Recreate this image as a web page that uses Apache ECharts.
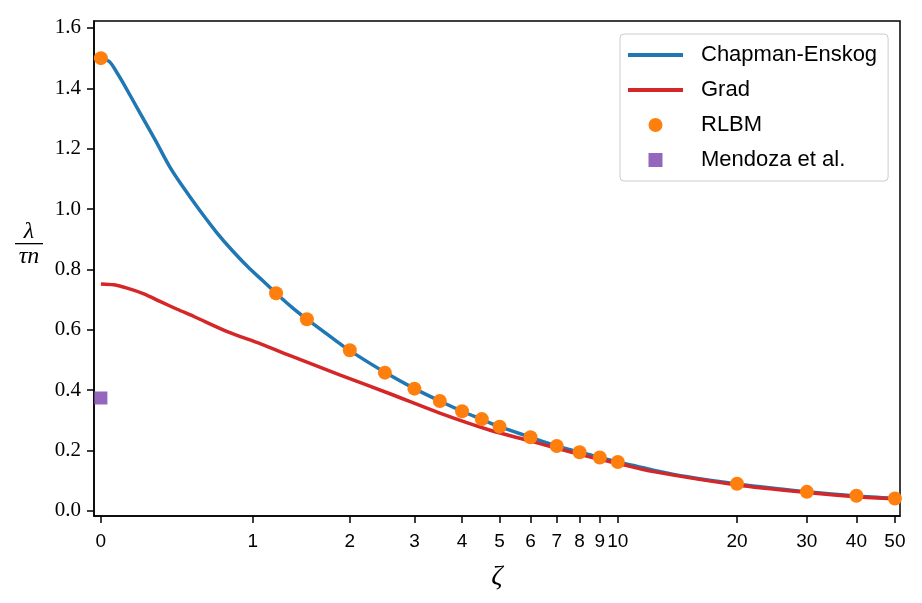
<!DOCTYPE html>
<html>
<head>
<meta charset="utf-8">
<script src="https://cdn.jsdelivr.net/npm/echarts@6/dist/echarts.min.js"></script>
<style>
  html, body { margin: 0; padding: 0; background: #fff; }
  #chart { width: 922px; height: 603px; }
</style>
</head>
<body>
<div id="chart"></div>
<script>
// zeta values on an asinh axis
const ceZeta = [0, 0.05, 0.09, 0.13, 0.23, 0.32, 0.41, 0.495, 0.606, 0.722, 0.843, 0.975, 1.088, 1.2, 1.364, 1.5, 1.84, 2, 2.5, 3, 3.5, 4, 4.5, 5, 6, 7, 8, 9, 10, 12.3, 15, 20, 25, 30, 40, 50]
const ceVal = [1.5, 1.488, 1.455, 1.417, 1.317, 1.229, 1.140, 1.073, 0.995, 0.923, 0.860, 0.802, 0.761, 0.721, 0.670, 0.635, 0.561, 0.531, 0.459, 0.405, 0.364, 0.330, 0.303, 0.279, 0.244, 0.215, 0.194, 0.177, 0.162, 0.135, 0.113, 0.089, 0.074, 0.063, 0.049, 0.041]

const gradZeta = [0, 0.075, 0.153, 0.252, 0.353, 0.457, 0.566, 0.80, 1.065, 1.37, 1.88, 2.58, 3.5, 4.71, 5.97, 8, 10, 12.3, 20, 30, 40, 50]
const gradVal = [0.752, 0.749, 0.738, 0.719, 0.693, 0.668, 0.644, 0.594, 0.553, 0.509, 0.450, 0.388, 0.324, 0.268, 0.232, 0.187, 0.157, 0.130, 0.086, 0.061, 0.047, 0.040]

const rlbmZeta = [0, 1.2, 1.5, 2, 2.5, 3, 3.5, 4, 4.5, 5, 6, 7, 8, 9, 10, 20, 30, 40, 50]
const rlbmVal = [1.5, 0.721, 0.635, 0.532, 0.458, 0.405, 0.364, 0.330, 0.304, 0.279, 0.244, 0.215, 0.194, 0.177, 0.162, 0.090, 0.063, 0.050, 0.041]

const mendozaZeta = [0]
const mendozaVal = [0.374]

const xTicks = [0, 1, 2, 3, 4, 5, 6, 7, 8, 9, 10, 20, 30, 40, 50]
const yTicks = [0, 0.2, 0.4, 0.6, 0.8, 1.0, 1.2, 1.4, 1.6]

const toPoints = (zs, vs) => zs.map((z, i) => [Math.asinh(z), vs[i]])

const chart = echarts.init(document.getElementById('chart'))

const lineIcon = 'path://M0,0H55V4H0Z'
const squareIcon = 'path://M0,0H10V10H0Z'

const option = {
  animation: false,
  backgroundColor: '#fff',
  grid: {
    left: 94,
    right: 22,
    top: 21,
    bottom: 87,
    show: true,
    borderColor: '#000',
    borderWidth: 1.5,
    backgroundColor: 'transparent'
  },
  legend: {
    orient: 'vertical',
    left: 620,
    top: 34,
    padding: [10, 11, 10, 8],
    itemWidth: 55,
    itemHeight: 14,
    itemGap: 13,
    backgroundColor: 'rgba(255,255,255,0.8)',
    borderColor: '#cccccc',
    borderWidth: 1,
    borderRadius: 4,
    itemStyle: { borderWidth: 0 },
    textStyle: {
      fontFamily: 'Liberation Sans',
      fontSize: 22,
      lineHeight: 22,
      color: '#000',
      padding: [0, 0, 0, 13]
    },
    data: [
      { name: 'Chapman-Enskog', icon: lineIcon },
      { name: 'Grad', icon: lineIcon },
      { name: 'RLBM', icon: 'circle' },
      { name: 'Mendoza et al.', icon: squareIcon }
    ]
  },
  xAxis: {
    type: 'value',
    min: Math.asinh(-0.04),
    max: Math.asinh(51.5),
    name: 'ζ',
    nameLocation: 'middle',
    nameGap: 47,
    nameTextStyle: {
      fontFamily: 'Liberation Serif',
      fontStyle: 'italic',
      fontSize: 28,
      color: '#000'
    },
    splitLine: { show: false },
    axisLine: { show: true, onZero: false, lineStyle: { color: '#000', width: 1.5 } },
    axisTick: {
      show: true,
      length: 7,
      lineStyle: { color: '#000', width: 1.5 },
      customValues: xTicks.map(v => Math.asinh(v))
    },
    axisLabel: {
      show: true,
      margin: 16,
      fontFamily: 'Liberation Sans',
      fontSize: 19,
      color: '#000',
      customValues: xTicks.map(v => Math.asinh(v)),
      formatter: v => String(Math.round(Math.sinh(v)))
    }
  },
  yAxis: {
    type: 'value',
    min: -0.017,
    max: 1.623,
    splitLine: { show: false },
    axisLine: { show: true, onZero: false, lineStyle: { color: '#000', width: 1.5 } },
    axisTick: {
      show: true,
      length: 7,
      lineStyle: { color: '#000', width: 1.5 },
      customValues: yTicks
    },
    axisLabel: {
      show: true,
      margin: 13,
      fontFamily: 'Liberation Serif',
      fontSize: 21,
      color: '#000',
      customValues: yTicks,
      formatter: v => v.toFixed(1)
    }
  },
  graphic: [
    {
      type: 'text',
      x: 29,
      y: 232,
      style: {
        text: 'λ',
        font: 'italic 24px "Liberation Serif"',
        fill: '#000',
        textAlign: 'center',
        textVerticalAlign: 'middle'
      }
    },
    {
      type: 'rect',
      shape: { x: 15, y: 243, width: 28, height: 1.3 },
      style: { fill: '#000' }
    },
    {
      type: 'text',
      x: 29,
      y: 257,
      style: {
        text: 'τn',
        font: 'italic 24px "Liberation Serif"',
        fill: '#000',
        textAlign: 'center',
        textVerticalAlign: 'middle'
      }
    }
  ],
  series: [
    {
      name: 'Chapman-Enskog',
      type: 'line',
      data: toPoints(ceZeta, ceVal),
      showSymbol: false,
      symbol: 'none',
      smooth: 0.3,
      itemStyle: { color: '#1f77b4' },
      lineStyle: { color: '#1f77b4', width: 3.5 },
      z: 2
    },
    {
      name: 'Grad',
      type: 'line',
      data: toPoints(gradZeta, gradVal),
      showSymbol: false,
      symbol: 'none',
      smooth: 0.3,
      itemStyle: { color: '#d62728' },
      lineStyle: { color: '#d62728', width: 3.5 },
      z: 3
    },
    {
      name: 'RLBM',
      type: 'scatter',
      data: toPoints(rlbmZeta, rlbmVal),
      symbol: 'circle',
      symbolSize: 14,
      itemStyle: { color: '#ff7f0e', opacity: 1 },
      z: 4
    },
    {
      name: 'Mendoza et al.',
      type: 'scatter',
      data: toPoints(mendozaZeta, mendozaVal),
      symbol: 'rect',
      symbolSize: 13,
      itemStyle: { color: '#9467bd', opacity: 1 },
      z: 4
    }
  ]
}

chart.setOption(option)
</script>
</body>
</html>
